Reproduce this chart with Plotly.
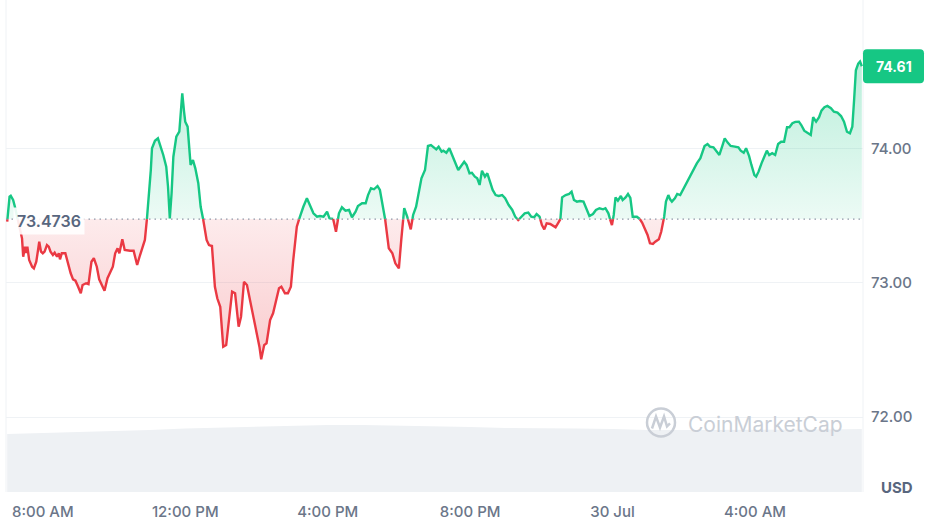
import plotly.graph_objects as go
import pandas as pd

START = pd.Timestamp("2023-07-29 07:00")
BASELINE = 73.4736
LAST_PRICE_TEXT = "74.61"
LAST_PRICE = 74.61

# minutes after 07:00 on 29 Jul and the price at that moment
minutes = [
    0, 4, 6, 10, 13, 25, 27, 30, 32, 34, 37, 42, 45, 49, 52, 54, 57, 60, 63, 67,
    70, 73, 77, 80, 84, 87, 89, 92, 98, 103, 107, 111, 115, 119, 124, 127, 133, 137, 142, 146,
    151, 155, 160, 164, 169, 173, 178, 182, 186, 189, 194, 198, 203, 207, 213, 216, 219, 223, 228, 232,
    235, 239, 242, 244, 249, 254, 259, 263, 268, 271, 274, 277, 280, 285, 290, 295, 298, 300, 304, 307,
    309, 313, 317, 322, 326, 331, 336, 340, 345, 350, 354, 359, 361, 364, 369, 373, 379, 384, 387, 390,
    394, 399, 404, 409, 415, 421, 425, 428, 433, 437, 443, 448, 453, 458, 462, 468, 473, 478, 482, 488,
    494, 499, 505, 510, 516, 522, 527, 533, 539, 543, 549, 554, 559, 564, 570, 576, 581, 587, 591, 598,
    604, 608, 613, 618, 624, 628, 633, 637, 643, 649, 654, 660, 664, 669, 674, 680, 684, 689, 694, 698,
    704, 709, 714, 718, 723, 727, 732, 735, 740, 745, 750, 754, 760, 764, 770, 774, 779, 783, 788, 792,
    796, 800, 805, 809, 814, 818, 823, 828, 834, 839, 845, 851, 856, 861, 866, 872, 878, 883, 888, 892,
    897, 901, 905, 909, 915, 920, 924, 928, 932, 935, 941, 947, 951, 955, 960, 965, 971, 977, 981, 987,
    992, 998, 1004, 1008, 1013, 1017, 1019, 1022, 1025, 1029, 1034, 1037, 1042, 1046, 1050, 1054, 1061, 1065, 1070, 1074,
    1079, 1083, 1088, 1092, 1098, 1102, 1107, 1110, 1114, 1117, 1120, 1125, 1129, 1134, 1139, 1145, 1151, 1156, 1162, 1168,
    1171, 1175, 1180, 1184, 1190, 1196, 1200, 1205, 1209, 1214, 1219, 1226, 1232, 1236, 1241, 1245, 1250, 1254, 1259, 1262,
    1266, 1271, 1277, 1280, 1284, 1289, 1294, 1299, 1304, 1309, 1314, 1318, 1323, 1328, 1334, 1338, 1343, 1348, 1354, 1358,
    1363, 1368, 1372, 1377, 1382, 1388, 1393, 1399, 1405, 1410, 1415, 1420, 1424, 1427, 1430, 1434, 1437, 1440,
]
price = [
    73.454, 73.640, 73.647, 73.615, 73.565, 73.330, 73.193, 73.268, 73.221, 73.268, 73.169, 73.119, 73.107, 73.156, 73.243, 73.305, 73.231, 73.219, 73.231, 73.280,
    73.268, 73.231, 73.206, 73.223, 73.193, 73.219, 73.174, 73.219, 73.219, 73.132, 73.070, 73.025, 73.015, 72.975, 72.921, 72.983, 72.996, 72.990, 73.156, 73.182,
    73.119, 73.025, 72.970, 72.940, 73.033, 73.070, 73.119, 73.219, 73.256, 73.219, 73.323, 73.243, 73.238, 73.238, 73.238, 73.193, 73.132, 73.193, 73.268, 73.318,
    73.454, 73.640, 73.838, 74.000, 74.056, 74.074, 74.012, 73.950, 73.863, 73.714, 73.479, 73.665, 73.937, 74.086, 74.123, 74.409, 74.272, 74.198, 74.161, 74.012,
    73.876, 73.913, 73.851, 73.740, 73.565, 73.454, 73.318, 73.280, 73.273, 72.970, 72.884, 72.821, 72.673, 72.524, 72.536, 72.698, 72.933, 72.921, 72.772, 72.673,
    72.747, 73.007, 72.983, 72.871, 72.747, 72.624, 72.524, 72.430, 72.536, 72.549, 72.722, 72.772, 72.871, 72.958, 72.970, 72.921, 72.921, 72.970, 73.169, 73.417,
    73.504, 73.565, 73.628, 73.578, 73.516, 73.491, 73.496, 73.491, 73.528, 73.479, 73.479, 73.379, 73.516, 73.561, 73.536, 73.541, 73.487, 73.528, 73.571, 73.591,
    73.591, 73.652, 73.702, 73.695, 73.719, 73.690, 73.578, 73.466, 73.256, 73.219, 73.144, 73.107, 73.318, 73.554, 73.491, 73.397, 73.504, 73.565, 73.690, 73.777,
    73.838, 74.017, 74.024, 74.012, 73.992, 74.012, 73.975, 73.982, 73.967, 74.000, 73.950, 73.900, 73.838, 73.863, 73.900, 73.876, 73.814, 73.818, 73.789, 73.777,
    73.727, 73.833, 73.789, 73.814, 73.740, 73.690, 73.652, 73.645, 73.652, 73.628, 73.578, 73.541, 73.491, 73.466, 73.487, 73.516, 73.521, 73.491, 73.487, 73.511,
    73.491, 73.429, 73.397, 73.442, 73.437, 73.422, 73.412, 73.442, 73.466, 73.635, 73.652, 73.660, 73.677, 73.615, 73.603, 73.608, 73.603, 73.546, 73.496, 73.511,
    73.541, 73.554, 73.546, 73.554, 73.516, 73.454, 73.429, 73.504, 73.635, 73.610, 73.645, 73.615, 73.635, 73.660, 73.630, 73.491, 73.491, 73.479, 73.446, 73.405,
    73.355, 73.293, 73.288, 73.305, 73.323, 73.379, 73.491, 73.603, 73.652, 73.620, 73.603, 73.628, 73.660, 73.652, 73.695, 73.740, 73.789, 73.838, 73.888, 73.926,
    73.963, 74.017, 74.032, 74.012, 74.007, 73.967, 73.950, 74.017, 74.074, 74.042, 74.017, 74.012, 74.007, 73.982, 73.967, 74.000, 73.943, 73.876, 73.801, 73.789,
    73.826, 73.888, 73.950, 73.982, 73.950, 73.963, 73.950, 74.032, 74.049, 74.049, 74.156, 74.156, 74.186, 74.196, 74.198, 74.173, 74.131, 74.116, 74.099, 74.231,
    74.198, 74.231, 74.280, 74.305, 74.315, 74.298, 74.272, 74.265, 74.240, 74.198, 74.123, 74.112, 74.161, 74.359, 74.580, 74.630, 74.645, 74.610,
]

# hourly 24h-volume (arbitrary units) starting at 07:00
volume_hours = list(range(25))
volume = [472, 480, 484, 492, 504, 516, 524, 533, 541, 545, 545, 541, 533,
          528, 520, 520, 516, 512, 504, 504, 504, 504, 504, 508, 512]

y_tickvals = [72, 73, 74]
y_ticktext = ["72.00", "73.00", "74.00"]
x_tick_hours = [1, 5, 9, 13, 17, 21]
x_ticktext = ["8:00 AM", "12:00 PM", "4:00 PM", "8:00 PM", "30 Jul", "4:00 AM"]

GREEN = "#16c784"
RED = "#ea3943"
TEXT = "#58667e"
TICK = "#6b7689"
GRID = "#eff2f5"

# insert baseline crossings so the two colours meet exactly
t_all, p_all = [], []
for i in range(len(minutes)):
    if i > 0:
        p0, p1 = price[i - 1], price[i]
        if (p0 - BASELINE) * (p1 - BASELINE) < 0:
            f = (BASELINE - p0) / (p1 - p0)
            t_all.append(minutes[i - 1] + f * (minutes[i] - minutes[i - 1]))
            p_all.append(BASELINE)
    t_all.append(minutes[i])
    p_all.append(price[i])

x_all = START + pd.to_timedelta(t_all, unit="min")
base_line = [BASELINE] * len(p_all)
green_fill = [max(v, BASELINE) for v in p_all]
red_fill = [min(v, BASELINE) for v in p_all]
green_line = [v if v >= BASELINE else None for v in p_all]
red_line = [v if v <= BASELINE else None for v in p_all]

vol_x = START + pd.to_timedelta(volume_hours, unit="h")

fig = go.Figure()
fig.add_trace(go.Scatter(x=vol_x, y=volume, yaxis="y2", mode="lines", fill="tozeroy",
                         fillcolor="#eef1f4", line=dict(width=0, color="#eef1f4"), hoverinfo="skip"))
fig.add_trace(go.Scatter(x=x_all, y=base_line, mode="lines", line=dict(width=0), hoverinfo="skip"))
fig.add_trace(go.Scatter(x=x_all, y=green_fill, mode="lines", line=dict(width=0), fill="tonexty",
                         fillgradient=dict(type="vertical", start=BASELINE, stop=max(price),
                                           colorscale=[[0, "rgba(22,199,132,0.08)"], [1, "rgba(22,199,132,0.30)"]]),
                         hoverinfo="skip"))
fig.add_trace(go.Scatter(x=x_all, y=base_line, mode="lines", line=dict(width=0), hoverinfo="skip"))
fig.add_trace(go.Scatter(x=x_all, y=red_fill, mode="lines", line=dict(width=0), fill="tonexty",
                         fillgradient=dict(type="vertical", start=min(price), stop=BASELINE,
                                           colorscale=[[0, "rgba(234,57,67,0.26)"], [1, "rgba(234,57,67,0.10)"]]),
                         hoverinfo="skip"))
fig.add_trace(go.Scatter(x=x_all, y=green_line, mode="lines", line=dict(color=GREEN, width=2.4), connectgaps=False))
fig.add_trace(go.Scatter(x=x_all, y=red_line, mode="lines", line=dict(color=RED, width=2.4), connectgaps=False))

x_range = [START + pd.Timedelta(minutes=-2), START + pd.Timedelta(minutes=1442)]
x_tickvals = [START + pd.Timedelta(hours=h) for h in x_tick_hours]

fig.update_layout(
    width=928, height=526,
    margin=dict(l=6, r=65, t=0, b=34),
    paper_bgcolor="white", plot_bgcolor="white",
    showlegend=False,
    font=dict(family="Inter, sans-serif", color=TEXT),
    xaxis=dict(type="date", range=x_range, tickvals=x_tickvals, ticktext=x_ticktext,
               showgrid=False, zeroline=False, showline=False, ticks="",
               tickfont=dict(size=15, color=TICK, weight=500), automargin=False, ticklabelstandoff=9),
    yaxis=dict(side="right", range=[71.443, 75.103], tickvals=y_tickvals, ticktext=y_ticktext,
               showgrid=True, gridcolor=GRID, gridwidth=1, zeroline=False, showline=False, ticks="",
               tickfont=dict(size=15, color=TICK, weight=500), automargin=False, ticklabelstandoff=7),
    yaxis2=dict(overlaying="y", range=[0, 4000], visible=False),
)

shapes = [
    dict(type="line", xref="paper", yref="paper", x0=0, x1=0, y0=0, y1=1, line=dict(color=GRID, width=1), layer="below"),
    dict(type="line", xref="paper", yref="paper", x0=1, x1=1, y0=0, y1=1, line=dict(color=GRID, width=1), layer="below"),
    dict(type="line", xref="paper", yref="y", x0=0, x1=1, y0=BASELINE, y1=BASELINE,
         line=dict(color="#8f98a8", width=1.3, dash="1.5px,4px"), layer="above"),
    # rounded green price tag
    dict(type="path", xref="paper", yref="y", xsizemode="pixel", ysizemode="pixel", xanchor=1, yanchor=LAST_PRICE,
         path="M 4,-17 L 57,-17 Q 61,-17 61,-13 L 61,13 Q 61,17 57,17 L 4,17 Q 0,17 0,13 L 0,-13 Q 0,-17 4,-17 Z",
         fillcolor=GREEN, line=dict(width=0), layer="above"),
    # watermark logo
    dict(type="circle", xref="paper", yref="paper", xsizemode="pixel", ysizemode="pixel",
         xanchor=0.7643, yanchor=0.1413, x0=-14, x1=14, y0=-14, y1=14,
         line=dict(color="#c9ced6", width=2.5), layer="above"),
    dict(type="path", xref="paper", yref="paper", xsizemode="pixel", ysizemode="pixel",
         xanchor=0.7643, yanchor=0.1413,
         path="M -9,-6 L -5,6 L -1,-5 L 3,6 L 6,-4 L 9,-1",
         line=dict(color="#c9ced6", width=2.5), layer="above"),
]
fig.update_layout(shapes=shapes)

fig.add_annotation(xref="paper", yref="y", x=0, y=BASELINE, xanchor="left", yanchor="middle", xshift=7, yshift=-2,
                   text="73.4736", showarrow=False, bgcolor="rgba(255,255,255,0.9)", borderpad=3,
                   font=dict(size=16, color=TEXT, weight=600))
fig.add_annotation(xref="paper", yref="y", x=1, y=LAST_PRICE, xanchor="center", yanchor="middle", xshift=30.5,
                   text="<b>" + LAST_PRICE_TEXT + "</b>", showarrow=False, font=dict(size=14, color="white"))
fig.add_annotation(xref="paper", yref="paper", x=1, y=0, xanchor="center", yanchor="middle", xshift=34, yshift=5,
                   text="<b>USD</b>", showarrow=False, font=dict(size=15, color=TEXT))
fig.add_annotation(xref="paper", yref="paper", x=0.8857, y=0.1382, xanchor="center", yanchor="middle",
                   text="CoinMarketCap", showarrow=False, font=dict(size=21, color="#c9ced6"))

fig.write_html("out.html")
